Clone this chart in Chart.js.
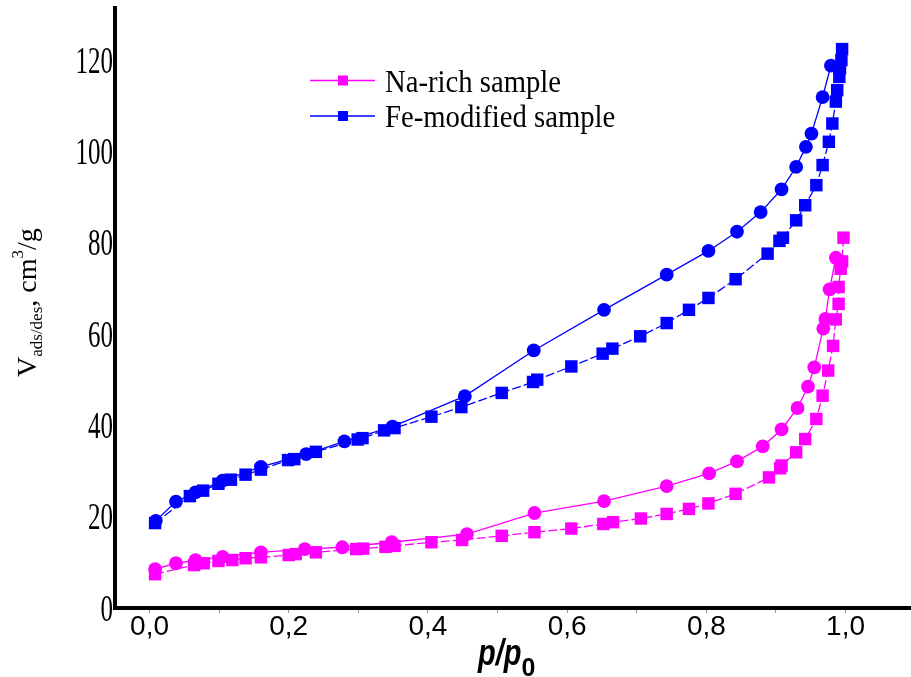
<!DOCTYPE html>
<html>
<head>
<meta charset="utf-8" />
<script src="https://cdn.jsdelivr.net/npm/chart.js@4.4.0/dist/chart.umd.min.js"></script>
<style>
  body { margin: 0; background: #fff; overflow: hidden; }
  #wrap { width: 911px; height: 677px; }
</style>
</head>
<body>
<div id="wrap"><canvas id="iso" width="911" height="677"></canvas></div>

<script>
/* ---------- Isotherm data: relative pressure p/p0 and V (cm3/g) ---------- */
// Na-rich sample, adsorption branch (squares)
const naAdsP = [0.008, 0.064, 0.078, 0.099, 0.119, 0.138, 0.160, 0.200, 0.210, 0.239, 0.297, 0.307, 0.339, 0.352,
                0.405, 0.449, 0.506, 0.553, 0.606, 0.652, 0.666, 0.706, 0.743, 0.775, 0.803, 0.842, 0.890, 0.906,
                0.908, 0.929, 0.942, 0.958, 0.967, 0.975, 0.982, 0.986, 0.990, 0.990, 0.993, 0.995, 0.997];
const naAdsV = [7.4, 9.4, 9.8, 10.3, 10.5, 10.9, 11.1, 11.6, 11.8, 12.2, 12.9, 13.0, 13.4, 13.6,
                14.4, 14.9, 15.8, 16.6, 17.4, 18.4, 18.8, 19.6, 20.6, 21.7, 22.9, 25.0, 28.6, 30.6,
                31.2, 34.1, 37.0, 41.4, 46.5, 52.0, 57.4, 63.2, 66.6, 70.3, 74.3, 75.9, 81.1];

// Na-rich sample, desorption branch (circles)
const naDesP = [0.008, 0.038, 0.066, 0.105, 0.160, 0.223, 0.277, 0.348, 0.456, 0.553, 0.653, 0.743,
                0.804, 0.844, 0.881, 0.908, 0.931, 0.946, 0.955, 0.968, 0.971, 0.977, 0.986];
const naDesV = [8.5, 9.8, 10.5, 11.2, 12.2, 12.9, 13.3, 14.4, 16.2, 20.8, 23.4, 26.7,
                29.5, 32.1, 35.4, 39.1, 43.8, 48.5, 52.7, 61.2, 63.3, 69.8, 76.7];

// Fe-modified sample, adsorption branch (squares)
const feAdsP = [0.008, 0.058, 0.077, 0.099, 0.117, 0.138, 0.160, 0.199, 0.208, 0.239, 0.299, 0.306, 0.337, 0.352,
                0.405, 0.448, 0.506, 0.551, 0.557, 0.606, 0.651, 0.665, 0.705, 0.743, 0.775, 0.803, 0.842, 0.888,
                0.905, 0.910, 0.929, 0.942, 0.958, 0.967, 0.976, 0.981, 0.986, 0.988, 0.991, 0.992, 0.994, 0.995];
const feAdsV = [18.6, 24.5, 25.7, 27.2, 28.1, 29.2, 30.3, 32.4, 32.6, 34.2, 36.9, 37.2, 38.9, 39.4,
                41.9, 44.0, 47.1, 49.5, 50.0, 52.9, 55.7, 56.8, 59.5, 62.4, 65.3, 67.9, 72.0, 77.6,
                80.4, 81.1, 84.9, 88.2, 92.6, 97.0, 102.1, 106.1, 110.9, 113.4, 116.3, 118.2, 120.0, 122.4];

// Fe-modified sample, desorption branch (circles)
const feDesP = [0.009, 0.038, 0.066, 0.105, 0.160, 0.225, 0.280, 0.349, 0.453, 0.552, 0.653, 0.743,
                0.803, 0.844, 0.878, 0.908, 0.929, 0.943, 0.951, 0.967, 0.979];
const feDesV = [19.1, 23.3, 25.3, 27.9, 30.9, 33.7, 36.5, 39.7, 46.4, 56.4, 65.3, 73.0,
                78.2, 82.4, 86.7, 91.7, 96.6, 101.0, 103.9, 111.9, 118.8];

const seriesNames = ['Na-rich sample', 'Fe-modified sample'];

/* ---------- Axis ticks ---------- */
const xTicks = [0, 0.1, 0.2, 0.3, 0.4, 0.5, 0.6, 0.7, 0.8, 0.9, 1.0];
const xTickText = ['0,0', '', '0,2', '', '0,4', '', '0,6', '', '0,8', '', '1,0'];
const yTicks = [0, 20, 40, 60, 80, 100, 120];

const NA_COLOR = '#ff00ff';
const FE_COLOR = '#0000ff';

function pts(xs, ys){ return xs.map((x, i) => ({ x: x, y: ys[i] })); }

function branch(label, xs, ys, col, square){
  return {
    label: label,
    data: pts(xs, ys),
    showLine: true,
    borderColor: col,
    backgroundColor: col,
    borderWidth: 1.3,
    borderDash: square ? [9, 3] : [],
    pointStyle: square ? 'rect' : 'circle',
    pointRadius: square ? 8.8 : 6.9,
    pointBorderWidth: 0,
    pointHoverRadius: square ? 8.8 : 6.9,
    inLegend: square
  };
}

/* ---------- Extra drawing: tick labels, titles, legend ---------- */
const decor = {
  id: 'decor',
  afterDraw(chart){
    const ctx = chart.ctx, sx = chart.scales.x, sy = chart.scales.y;
    ctx.save();
    ctx.fillStyle = '#000';

    // y tick labels (tall serif digits)
    ctx.font = '25px "Liberation Serif", "Times New Roman", serif';
    ctx.textAlign = 'right';
    ctx.textBaseline = 'alphabetic';
    yTicks.forEach(v => {
      const py = sy.getPixelForValue(v);
      ctx.save();
      ctx.translate(113, py + 12.7);
      ctx.scale(1, 1.5);
      ctx.fillText(String(v), 0, 0);
      ctx.restore();
    });

    // x tick labels
    ctx.font = '28px "Liberation Sans", Arial, sans-serif';
    ctx.textAlign = 'center';
    xTicks.forEach((v, i) => {
      if (!xTickText[i]) return;
      ctx.fillText(xTickText[i], sx.getPixelForValue(v), 635);
    });

    // x title: p/p0
    ctx.textAlign = 'left';
    ctx.save();
    ctx.translate(478, 665);
    ctx.scale(1, 1.3);
    ctx.font = 'italic bold 29px "Liberation Sans", Arial, sans-serif';
    ctx.fillText('p/p', 0, 0);
    const w = ctx.measureText('p/p').width;
    ctx.restore();
    ctx.font = 'bold 25px "Liberation Sans", Arial, sans-serif';
    ctx.fillText('0', 478 + w, 676);

    // y title: V_ads/des, cm^3/g (rotated)
    ctx.save();
    ctx.translate(36, 377);
    ctx.rotate(-Math.PI / 2);
    let cx = 0;
    const big = '28px "Liberation Serif", "Times New Roman", serif';
    const small = '17px "Liberation Serif", "Times New Roman", serif';
    const parts = [['V', big, 0], ['ads/des', small, 6], [', cm', big, 0], ['3', small, -13], ['/g', big, 0]];
    parts.forEach(p => {
      ctx.font = p[1];
      ctx.fillText(p[0], cx, p[2]);
      cx += ctx.measureText(p[0]).width;
    });
    ctx.restore();

    // legend (square branches only)
    const rows = chart.data.datasets.filter(d => d.inLegend);
    rows.forEach((d, i) => {
      const ly = 80.5 + i * 35.5;
      ctx.strokeStyle = d.borderColor;
      ctx.lineWidth = 1.3;
      ctx.beginPath();
      ctx.moveTo(310, ly); ctx.lineTo(375, ly);
      ctx.stroke();
      ctx.fillStyle = d.backgroundColor;
      ctx.fillRect(338, ly - 5, 10, 10);
      ctx.fillStyle = '#000';
      ctx.save();
      ctx.translate(385, ly + 11);
      ctx.scale(1, 1.12);
      ctx.font = '28.7px "Liberation Serif", "Times New Roman", serif';
      ctx.fillText(d.label, 0, 0);
      ctx.restore();
    });

    ctx.restore();
  }
};

/* ---------- Chart ---------- */
const chart = new Chart(document.getElementById('iso'), {
  type: 'scatter',
  data: {
    datasets: [
      branch(seriesNames[0], naAdsP, naAdsV, NA_COLOR, true),
      branch(seriesNames[0] + ' (desorption)', naDesP, naDesV, NA_COLOR, false),
      branch(seriesNames[1], feAdsP, feAdsV, FE_COLOR, true),
      branch(seriesNames[1] + ' (desorption)', feDesP, feDesV, FE_COLOR, false)
    ]
  },
  options: {
    responsive: false,
    animation: false,
    layout: { autoPadding: false, padding: { top: 8, right: 0, left: 0, bottom: 0 } },
    plugins: { legend: { display: false }, tooltip: { enabled: false } },
    scales: {
      x: {
        type: 'linear',
        min: -0.0496,
        max: 1.094,
        afterBuildTicks: s => { s.ticks = xTicks.map(v => ({ value: v })); },
        afterFit: s => { s.height = 69; },
        ticks: { display: false },
        grid: { display: true, drawOnChartArea: false, drawTicks: true, tickLength: 5, color: '#999', lineWidth: 1 },
        border: { display: true, color: '#000', width: 4 }
      },
      y: {
        type: 'linear',
        min: 0,
        max: 131.4,
        afterBuildTicks: s => { s.ticks = yTicks.map(v => ({ value: v })); },
        afterFit: s => { s.width = 115; },
        ticks: { display: false },
        grid: { display: false },
        border: { display: true, color: '#000', width: 4 }
      }
    }
  },
  plugins: [decor]
});
</script>
</body>
</html>
